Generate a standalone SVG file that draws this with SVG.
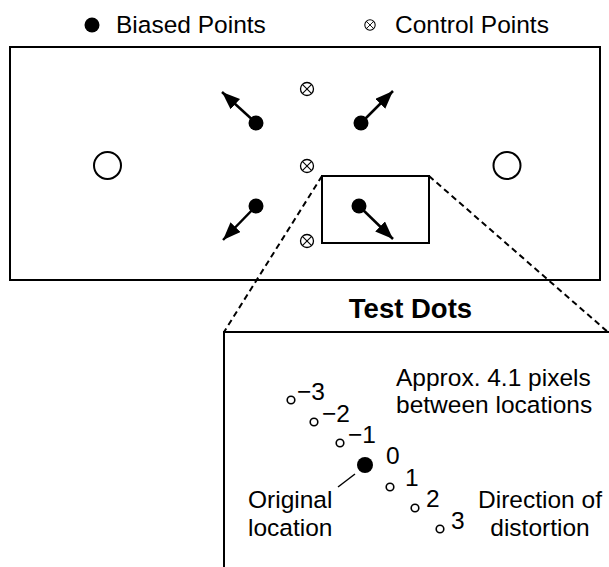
<svg xmlns="http://www.w3.org/2000/svg" width="609" height="567" viewBox="0 0 609 567">
<style>
text{font-family:"Liberation Sans",Arial,sans-serif;font-size:24.5px;fill:#000}
.bold{font-weight:bold;font-size:27.5px}
.frame{fill:none;stroke:#000;stroke-width:2}
.dash{fill:none;stroke:#000;stroke-width:2;stroke-dasharray:6,4}
.open{fill:#fff;stroke:#000;stroke-width:2}
.small{fill:#fff;stroke:#000;stroke-width:1.6}
.dot{fill:#000}
.arrow{stroke:#000;stroke-width:2.5;fill:none;marker-end:url(#ah)}
</style>
<defs>
<marker id="ah" markerUnits="userSpaceOnUse" markerWidth="20" markerHeight="16" refX="18" refY="7" orient="auto">
<path d="M0,0 L18,7 L0,14 z" fill="#000"/>
</marker>
<g id="cpsym"><circle r="6.5" fill="#fff" stroke="#000" stroke-width="1.3"/><line x1="-4.6" y1="-4.6" x2="4.6" y2="4.6" stroke="#000" stroke-width="1.1"/><line x1="-4.6" y1="4.6" x2="4.6" y2="-4.6" stroke="#000" stroke-width="1.1"/></g>
</defs>

<g id="legend">
<circle class="dot" cx="92" cy="25" r="7.5"/>
<text x="116" y="33">Biased Points</text>
<g transform="translate(370,25) scale(0.8)"><use href="#cpsym"/></g>
<text x="395" y="33">Control Points</text>
</g>

<g id="main-panel">
<rect class="frame" x="10" y="47" width="590" height="233"/>
</g>

<g id="reference-left"><circle class="open" cx="107.5" cy="165.5" r="13.5"/></g>
<g id="reference-right"><circle class="open" cx="507" cy="165.5" r="13.5"/></g>

<g id="control-points">
<use href="#cpsym" x="307" y="89"/>
<use href="#cpsym" x="307" y="166"/>
<use href="#cpsym" x="307" y="241"/>
</g>

<g id="zoom-box"><rect class="frame" x="322" y="176" width="107" height="67"/></g>

<g id="connectors">
<line class="arrow" x1="256" y1="123" x2="222" y2="92"/>
<line class="arrow" x1="361" y1="123" x2="393" y2="91"/>
<line class="arrow" x1="256" y1="206" x2="223" y2="240"/>
<line class="arrow" x1="359" y1="206" x2="393" y2="239"/>
<line class="dash" x1="322" y1="176" x2="224" y2="332"/>
<line class="dash" x1="429" y1="176" x2="609" y2="333"/>
<line stroke="#000" stroke-width="1.5" x1="338" y1="487" x2="355" y2="474"/>
</g>

<g id="biased-points">
<circle class="dot" cx="256" cy="123" r="7.5"/>
<circle class="dot" cx="361" cy="123" r="7.5"/>
<circle class="dot" cx="256" cy="206" r="7.5"/>
<circle class="dot" cx="359" cy="206" r="7.5"/>
</g>

<g id="test-dots-panel">
<path class="frame" d="M224,567 V332 H612"/>
<text class="bold" x="410.5" y="318" text-anchor="middle">Test Dots</text>
<text x="396" y="386">Approx. 4.1 pixels</text>
<text x="396" y="413">between locations</text>
<circle class="small" cx="291" cy="400" r="3.8"/>
<circle class="small" cx="314" cy="422" r="3.8"/>
<circle class="small" cx="340" cy="443" r="3.8"/>
<circle class="dot" cx="365" cy="465" r="8"/>
<circle class="small" cx="390" cy="487" r="3.8"/>
<circle class="small" cx="415" cy="508" r="3.8"/>
<circle class="small" cx="440" cy="529" r="3.8"/>
<text x="297" y="400">−3</text>
<text x="322" y="422">−2</text>
<text x="348" y="443">−1</text>
<text x="386" y="464">0</text>
<text x="405" y="486">1</text>
<text x="426" y="507">2</text>
<text x="451" y="529">3</text>
<text x="248" y="508">Original</text>
<text x="248" y="536">location</text>
<text x="540" y="508" text-anchor="middle">Direction of</text>
<text x="540" y="536" text-anchor="middle">distortion</text>
</g>
</svg>
